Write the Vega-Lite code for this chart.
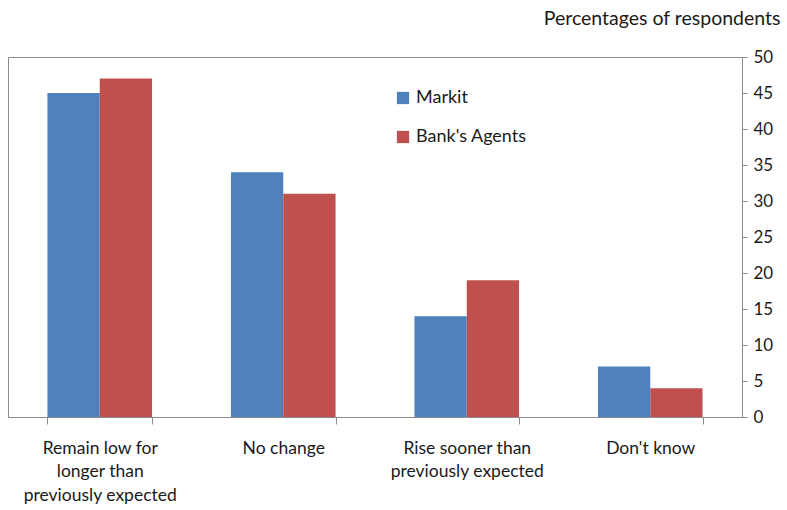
{
  "$schema": "https://vega.github.io/schema/vega-lite/v6.json",
  "width": 734,
  "height": 360,
  "autosize": {"type": "none"},
  "padding": {"left": 8, "top": 57, "right": 45, "bottom": 93},
  "background": "white",
  "config": {
    "font": "Lato",
    "view": {"stroke": "#8c8c8c", "strokeWidth": 1}
  },
  "data": {
    "values": [
      {"category": "Remain low for longer than previously expected", "source": "Markit", "pct": 45},
      {"category": "Remain low for longer than previously expected", "source": "Bank's Agents", "pct": 47},
      {"category": "No change", "source": "Markit", "pct": 34},
      {"category": "No change", "source": "Bank's Agents", "pct": 31},
      {"category": "Rise sooner than previously expected", "source": "Markit", "pct": 14},
      {"category": "Rise sooner than previously expected", "source": "Bank's Agents", "pct": 19},
      {"category": "Don't know", "source": "Markit", "pct": 7},
      {"category": "Don't know", "source": "Bank's Agents", "pct": 4}
    ]
  },
  "mark": {"type": "bar"},
  "encoding": {
    "x": {
      "field": "category",
      "type": "nominal",
      "sort": null,
      "scale": {"paddingInner": 0.43, "paddingOuter": 0.215},
      "axis": {
        "title": null,
        "labelAngle": 0,
        "labelFontSize": 17.5,
        "labelColor": "#1a1a1a",
        "labelPadding": 15,
        "labelLineHeight": 23.5,
        "labelBaseline": "top",
        "labelExpr": "datum.label == 'Remain low for longer than previously expected' ? ['Remain low for', 'longer than', 'previously expected'] : datum.label == 'Rise sooner than previously expected' ? ['Rise sooner than', 'previously expected'] : datum.label",
        "tickBand": "extent",
        "tickSize": 7,
        "tickColor": "#8c8c8c",
        "domainColor": "#8c8c8c",
        "grid": false
      }
    },
    "xOffset": {
      "field": "source",
      "type": "nominal",
      "sort": ["Markit", "Bank's Agents"],
      "scale": {"paddingInner": 0, "paddingOuter": 0}
    },
    "y": {
      "field": "pct",
      "type": "quantitative",
      "scale": {"domain": [0, 50], "nice": false},
      "axis": {
        "orient": "right",
        "values": [0, 5, 10, 15, 20, 25, 30, 35, 40, 45, 50],
        "grid": false,
        "labelFontSize": 17,
        "labelColor": "#1a1a1a",
        "labelPadding": 6,
        "tickSize": 5,
        "tickColor": "#8c8c8c",
        "domainColor": "#8c8c8c",
        "title": "Percentages of respondents",
        "titleAngle": 0,
        "titleFontSize": 19.5,
        "titleFontWeight": "normal",
        "titleColor": "#1a1a1a",
        "titleAlign": "right",
        "titleBaseline": "middle",
        "titleX": 38,
        "titleY": -39
      }
    },
    "color": {
      "field": "source",
      "type": "nominal",
      "sort": ["Markit", "Bank's Agents"],
      "scale": {"domain": ["Markit", "Bank's Agents"], "range": ["#4f81bd", "#c0504d"]},
      "legend": {
        "title": null,
        "orient": "none",
        "legendX": 386,
        "legendY": 32,
        "symbolType": "square",
        "symbolSize": 150,
        "symbolStrokeWidth": 0,
        "labelFontSize": 18,
        "labelColor": "#1a1a1a",
        "labelOffset": 4,
        "rowPadding": 21
      }
    }
  }
}
